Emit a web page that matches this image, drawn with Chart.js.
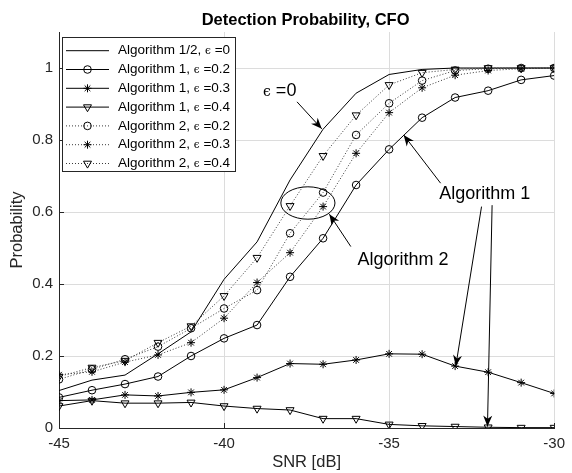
<!DOCTYPE html>
<html>
<head>
<meta charset="utf-8">
<script src="https://cdn.jsdelivr.net/npm/chart.js@4.4.1/dist/chart.umd.min.js"></script>
<style>
  html, body { margin: 0; padding: 0; background: #fff; }
</style>
</head>
<body>
<canvas id="chart" width="572" height="473"></canvas>
<script>
// SNR in dB
const snr = [-45, -44, -43, -42, -41, -40, -39, -38, -37, -36, -35, -34, -33, -32, -31, -30];

// detection probability per curve
const alg12Eps0 = [0.104, 0.133, 0.147, 0.206, 0.267, 0.413, 0.517, 0.689, 0.83, 0.93, 0.982, 0.996, 1, 1, 1, 1];
const alg1Eps02 = [0.085, 0.105, 0.122, 0.143, 0.2, 0.249, 0.286, 0.42, 0.527, 0.675, 0.774, 0.862, 0.918, 0.937, 0.967, 0.979];
const alg1Eps03 = [0.076, 0.078, 0.092, 0.089, 0.099, 0.106, 0.14, 0.179, 0.177, 0.189, 0.206, 0.205, 0.172, 0.155, 0.126, 0.096];
const alg1Eps04 = [0.061, 0.076, 0.069, 0.069, 0.071, 0.061, 0.054, 0.05, 0.026, 0.026, 0.01, 0.006, 0.004, 0.002, 0.001, 0.001];
const alg2Eps02 = [0.135, 0.163, 0.191, 0.226, 0.277, 0.332, 0.383, 0.541, 0.654, 0.814, 0.902, 0.965, 0.993, 0.998, 1, 1];
const alg2Eps03 = [0.148, 0.156, 0.183, 0.203, 0.237, 0.305, 0.404, 0.487, 0.615, 0.763, 0.876, 0.945, 0.98, 0.993, 0.998, 1];
const alg2Eps04 = [0.143, 0.168, 0.187, 0.237, 0.283, 0.367, 0.473, 0.617, 0.756, 0.869, 0.953, 0.987, 0.996, 1, 1, 1];

const seriesNames = [
  'Algorithm 1/2, ϵ =0',
  'Algorithm 1, ϵ =0.2',
  'Algorithm 1, ϵ =0.3',
  'Algorithm 1, ϵ =0.4',
  'Algorithm 2, ϵ =0.2',
  'Algorithm 2, ϵ =0.3',
  'Algorithm 2, ϵ =0.4'
];

const xTicks = [-45, -40, -35, -30];
const yTicks = [0, 0.2, 0.4, 0.6, 0.8, 1];

const FONT = '"Liberation Sans", Arial, Helvetica, sans-serif';
const EPS_FONT = '"DejaVu Serif", "Liberation Serif", serif';

function pts(vals) {
  return snr.map((x, i) => ({ x: x, y: vals[i] }));
}

function series(label, vals, style, dotted) {
  return {
    label: label,
    data: pts(vals),
    borderColor: dotted ? '#3a3a3a' : '#000',
    borderWidth: 1,
    borderDash: dotted ? [1, 2] : [],
    pointStyle: style || 'circle',
    pointRadius: style ? (style === 'triangle' ? 4.6 : style === 'star' ? 4 : 3.8) : 0,
    pointRotation: style === 'triangle' ? 180 : 0,
    pointBorderColor: '#000',
    pointBackgroundColor: 'rgba(0,0,0,0)',
    pointBorderWidth: 1,
    tension: 0,
    fill: false
  };
}

// annotation text and arrows, in data units
const notes = {
  texts: [
    { x: -38.82, y: 0.936, pre: '', eps: true, post: ' =0' },
    { x: -35.96, y: 0.467, pre: 'Algorithm 2' },
    { x: -33.48, y: 0.649, pre: 'Algorithm 1' }
  ],
  arrows: [
    [-37.79, 0.906, -37.04, 0.831],
    [-36.16, 0.504, -36.81, 0.594],
    [-33.44, 0.68, -34.56, 0.814],
    [-32.2, 0.615, -32.98, 0.172],
    [-31.88, 0.619, -32.02, 0.004]
  ],
  ellipse: { x: -37.46, y: 0.625, rx: 0.82, ry: 0.045 }
};

function drawRich(ctx, x, y, pre, post, size) {
  ctx.textBaseline = 'middle';
  ctx.textAlign = 'left';
  ctx.font = size + 'px ' + FONT;
  ctx.fillText(pre, x, y);
  x += ctx.measureText(pre).width;
  if (post !== undefined) {
    ctx.font = (size * 0.78) + 'px ' + EPS_FONT;
    ctx.fillText('ϵ', x, y + 1);
    x += ctx.measureText('ϵ').width;
    ctx.font = size + 'px ' + FONT;
    ctx.fillText(post, x, y);
  }
}

function arrow(ctx, x0, y0, x1, y1) {
  ctx.beginPath();
  ctx.moveTo(x0, y0);
  ctx.lineTo(x1, y1);
  ctx.stroke();
  const a = Math.atan2(y1 - y0, x1 - x0);
  const L = 11, W = 4.5;
  const bx = x1 - L * Math.cos(a), by = y1 - L * Math.sin(a);
  const nx = x1 - L * 0.7 * Math.cos(a), ny = y1 - L * 0.7 * Math.sin(a);
  ctx.beginPath();
  ctx.moveTo(x1, y1);
  ctx.lineTo(bx + W * Math.sin(a), by - W * Math.cos(a));
  ctx.lineTo(nx, ny);
  ctx.lineTo(bx - W * Math.sin(a), by + W * Math.cos(a));
  ctx.closePath();
  ctx.fill();
}

const extras = {
  id: 'extras',
  afterDraw(chart) {
    const ctx = chart.ctx;
    const xs = chart.scales.x, ys = chart.scales.y;
    const area = chart.chartArea;
    ctx.save();

    // inward tick marks
    ctx.strokeStyle = '#262626';
    ctx.lineWidth = 1;
    ctx.beginPath();
    xTicks.forEach(v => {
      const px = Math.round(xs.getPixelForValue(v)) + 0.5;
      ctx.moveTo(px, area.bottom);
      ctx.lineTo(px, area.bottom - 5);
    });
    yTicks.forEach(v => {
      const py = Math.round(ys.getPixelForValue(v)) + 0.5;
      ctx.moveTo(area.left, py);
      ctx.lineTo(area.left + 5, py);
    });
    ctx.stroke();

    // title
    ctx.fillStyle = '#000';
    ctx.font = 'bold 16.5px ' + FONT;
    ctx.textAlign = 'center';
    ctx.textBaseline = 'middle';
    ctx.fillText('Detection Probability, CFO', (area.left + area.right) / 2 - 1, 20);

    // annotations
    ctx.strokeStyle = '#000';
    ctx.fillStyle = '#000';
    ctx.lineWidth = 1;
    notes.texts.forEach(t => {
      const px = xs.getPixelForValue(t.x), py = ys.getPixelForValue(t.y);
      if (t.eps) drawRich(ctx, px, py, t.pre, t.post, 18);
      else drawRich(ctx, px, py, t.pre, undefined, 18);
    });
    notes.arrows.forEach(a => {
      arrow(ctx, xs.getPixelForValue(a[0]), ys.getPixelForValue(a[1]),
        xs.getPixelForValue(a[2]), ys.getPixelForValue(a[3]));
    });
    const e = notes.ellipse;
    const ecx = xs.getPixelForValue(e.x), ecy = ys.getPixelForValue(e.y);
    ctx.beginPath();
    ctx.ellipse(ecx, ecy,
      Math.abs(xs.getPixelForValue(e.x + e.rx) - ecx),
      Math.abs(ys.getPixelForValue(e.y + e.ry) - ecy), 0, 0, Math.PI * 2);
    ctx.stroke();

    // legend box
    const lx = 62, ly = 37.5, lw = 173, lh = 134;
    ctx.fillStyle = '#fff';
    ctx.fillRect(lx, ly, lw, lh);
    ctx.strokeStyle = '#262626';
    ctx.lineWidth = 1;
    ctx.strokeRect(lx + 0.5, ly, lw, lh);
    chart.data.datasets.forEach((ds, i) => {
      const ry = 50.7 + i * 18.8;
      ctx.strokeStyle = ds.borderColor;
      ctx.setLineDash(ds.borderDash);
      ctx.beginPath();
      ctx.moveTo(66, ry);
      ctx.lineTo(109, ry);
      ctx.stroke();
      ctx.setLineDash([]);
      if (ds.pointRadius > 0) {
        ctx.strokeStyle = '#000';
        ctx.fillStyle = 'rgba(0,0,0,0)';
        Chart.helpers.drawPoint(ctx, {
          pointStyle: ds.pointStyle,
          radius: ds.pointRadius,
          rotation: ds.pointRotation,
          borderWidth: 1
        }, 87.5, ry);
      }
      ctx.fillStyle = '#000';
      const parts = ds.label.split('ϵ');
      drawRich(ctx, 118, ry, parts[0], parts[1], 13.5);
    });
    ctx.restore();
  }
};

new Chart(document.getElementById('chart'), {
  type: 'line',
  data: {
    datasets: [
      series(seriesNames[0], alg12Eps0, null, false),
      series(seriesNames[1], alg1Eps02, 'circle', false),
      series(seriesNames[2], alg1Eps03, 'star', false),
      series(seriesNames[3], alg1Eps04, 'triangle', false),
      series(seriesNames[4], alg2Eps02, 'circle', true),
      series(seriesNames[5], alg2Eps03, 'star', true),
      series(seriesNames[6], alg2Eps04, 'triangle', true)
    ]
  },
  options: {
    responsive: false,
    animation: false,
    devicePixelRatio: 1,
    layout: { padding: { top: 32, right: 13, left: 0, bottom: 0 } },
    plugins: {
      legend: { display: false },
      tooltip: { enabled: false },
      title: { display: false }
    },
    scales: {
      x: {
        type: 'linear',
        min: -45,
        max: -30,
        afterBuildTicks: s => { s.ticks = xTicks.map(v => ({ value: v })); },
        afterFit: s => { s.height = 45; },
        grid: { color: '#dcdcdc', drawTicks: false },
        border: { color: '#262626' },
        ticks: {
          color: '#262626',
          font: { size: 15, family: FONT },
          padding: 7,
          maxRotation: 0,
          callback: v => String(v)
        },
        title: {
          display: true,
          text: 'SNR [dB]',
          color: '#262626',
          font: { size: 16.5, family: FONT },
          padding: { top: 0, bottom: 1 }
        }
      },
      y: {
        min: 0,
        max: 1.1,
        afterBuildTicks: s => { s.ticks = yTicks.map(v => ({ value: v })); },
        afterFit: s => { s.width = 59; },
        grid: { color: '#dcdcdc', drawTicks: false },
        border: { color: '#262626' },
        ticks: {
          color: '#262626',
          font: { size: 15, family: FONT },
          padding: 6,
          callback: v => String(v)
        },
        title: {
          display: true,
          text: 'Probability',
          color: '#262626',
          font: { size: 16.5, family: FONT },
          padding: { top: 8, bottom: 0 }
        }
      }
    }
  },
  plugins: [extras]
});
</script>
</body>
</html>
